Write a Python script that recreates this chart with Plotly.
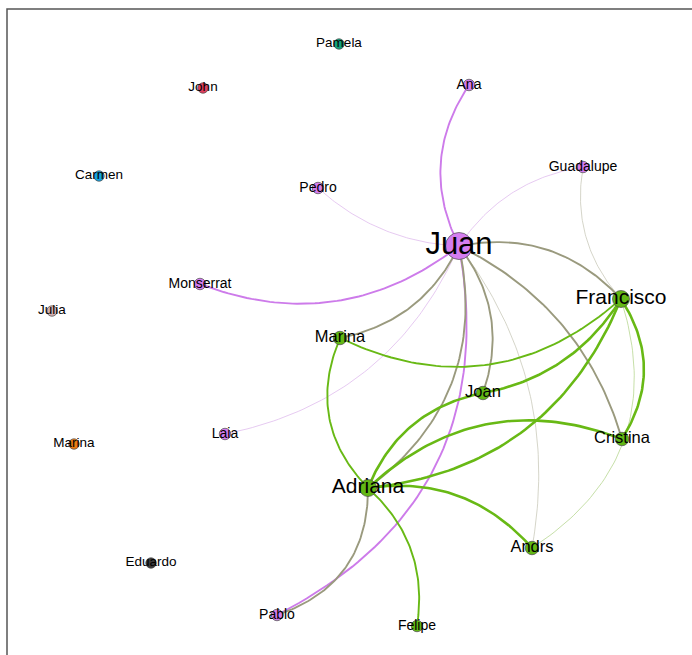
import numpy as np
import plotly.graph_objects as go

# ---------------- data ----------------
node_names = ["Pamela", "John", "Ana", "Guadalupe", "Carmen", "Pedro", "Juan",
              "Monserrat", "Francisco", "Julia", "Marina", "Joan", "Laia",
              "Cristina", "Marina ", "Adriana", "Andrs", "Eduardo", "Pablo", "Felipe"]
node_x = [339, 203, 469, 583, 99, 318, 459, 200, 621, 52, 340, 483, 225, 622, 74, 368, 532, 151, 277, 417]
node_y = [44, 88, 85, 167, 176, 188, 246, 284, 299, 311, 338, 393, 434, 439, 444, 488, 548, 563, 615, 626]
node_group = ["teal", "red", "violet", "violet", "blue", "violet", "violet",
              "violet", "green", "pink", "green", "green", "violet",
              "green", "orange", "green", "green", "dark", "violet", "green"]
node_degree = [0, 0, 1, 2, 0, 1, 12, 1, 7, 0, 3, 3, 1, 4, 0, 8, 4, 0, 2, 1]

edge_source = ["Juan", "Pedro", "Guadalupe", "Monserrat", "Laia", "Pablo", "Marina",
               "Joan", "Juan", "Juan", "Juan", "Adriana", "Pablo", "Marina",
               "Marina", "Joan", "Adriana", "Adriana", "Adriana", "Francisco",
               "Francisco", "Guadalupe", "Adriana", "Adriana"]
edge_target = ["Ana", "Juan", "Juan", "Juan", "Juan", "Juan", "Juan",
               "Juan", "Francisco", "Cristina", "Andrs", "Juan", "Adriana", "Adriana",
               "Francisco", "Francisco", "Joan", "Francisco", "Cristina", "Cristina",
               "Andrs", "Francisco", "Andrs", "Felipe"]
edge_weight = [2, 1, 1, 2, 1, 2, 2,
               2, 2, 2, 1, 2, 2, 2,
               2, 3, 3, 3, 3, 3,
               1, 1, 3, 2]

# ---------------- styles ----------------
edge_bend = [-0.29, 0.18, 0.22, 0.28, 0.26, 0.37, 0.25,
             0.27, -0.28, -0.22, -0.22, 0.32, 0.36, 0.33,
             0.33, 0.22, -0.27, 0.30, -0.31, -0.32,
             -0.38, 0.24, -0.27, -0.27]

group_fill = {
    "violet": "#d47df0", "green": "#62b814", "teal": "#13a07c", "red": "#e0405f",
    "blue": "#16a2df", "pink": "#d4b0b0", "orange": "#ec7a12", "dark": "#3a3a3a",
}
edge_color_map = {
    ("violet", "violet"): "#cd7bea",
    ("green", "green"): "#68b915",
    ("green", "violet"): "#9a9a7e",
    ("violet", "green"): "#9a9a7e",
}
thin_color_map = {
    ("violet", "violet"): "#dfbdee",
    ("green", "green"): "#b7d792",
    ("green", "violet"): "#cacabb",
    ("violet", "green"): "#cacabb",
}
width_map = {1: 0.8, 2: 1.9, 3: 2.6}

idx = {n: i for i, n in enumerate(node_names)}
idx["Marina"] = 10  # the green Marina


def curve(p0, p1, c, n=60):
    p0 = np.array(p0, float)
    p1 = np.array(p1, float)
    d = p1 - p0
    L = np.hypot(*d)
    nv = np.array([-d[1], d[0]]) / L
    ctrl = (p0 + p1) / 2 + c * L * nv
    t = np.linspace(0, 1, n)[:, None]
    pts = (1 - t) ** 2 * p0 + 2 * (1 - t) * t * ctrl + t ** 2 * p1
    return pts[:, 0], pts[:, 1]


fig = go.Figure()

groups = {}
for s, t, w, c in zip(edge_source, edge_target, edge_weight, edge_bend):
    i, j = idx[s], idx[t]
    key_g = (node_group[i], node_group[j])
    col = thin_color_map[key_g] if w == 1 else edge_color_map[key_g]
    key = (col, width_map[w])
    xs, ys = curve((node_x[i], node_y[i]), (node_x[j], node_y[j]), c)
    gx, gy = groups.setdefault(key, ([], []))
    gx.extend(list(xs) + [None])
    gy.extend(list(ys) + [None])

for (col, wd), (gx, gy) in sorted(groups.items(), key=lambda kv: kv[0][1]):
    fig.add_trace(go.Scatter(x=gx, y=gy, mode="lines",
                             line=dict(color=col, width=wd),
                             hoverinfo="skip", showlegend=False))


def node_size(deg):
    if deg >= 12:
        return 27
    if deg >= 7:
        return 17
    if deg >= 3:
        return 13.5
    if deg >= 1:
        return 11.5
    return 10.5


fig.add_trace(go.Scatter(
    x=node_x, y=node_y, mode="markers",
    marker=dict(size=[node_size(d) for d in node_degree],
                color=[group_fill[g] for g in node_group], opacity=1,
                line=dict(color="#4a4a4a", width=0.7)),
    hoverinfo="text", text=node_names, showlegend=False))


def label_size(deg):
    if deg >= 12:
        return 31
    if deg >= 7:
        return 21
    if deg >= 3:
        return 16.5
    if deg >= 1:
        return 14
    return 13.5


fig.add_trace(go.Scatter(
    x=node_x, y=node_y, mode="text", text=[n.strip() for n in node_names],
    textposition="middle center",
    textfont=dict(family="Liberation Sans, Arial, sans-serif",
                  size=[label_size(d) for d in node_degree], color="#000000"),
    hoverinfo="skip", showlegend=False))

fig.add_shape(type="rect", xref="x", yref="y", x0=7, y0=9, x1=720, y1=700,
              line=dict(color="#555555", width=1.5), layer="above")

fig.update_layout(
    width=692, height=655,
    margin=dict(l=0, r=0, t=0, b=0),
    paper_bgcolor="white", plot_bgcolor="white",
    xaxis=dict(range=[0, 692], visible=False, fixedrange=True),
    yaxis=dict(range=[655, 0], visible=False, fixedrange=True),
)

fig.write_html("out.html", config={"displayModeBar": False},
               post_script="document.body.style.margin='0';document.body.style.overflow='hidden';")
